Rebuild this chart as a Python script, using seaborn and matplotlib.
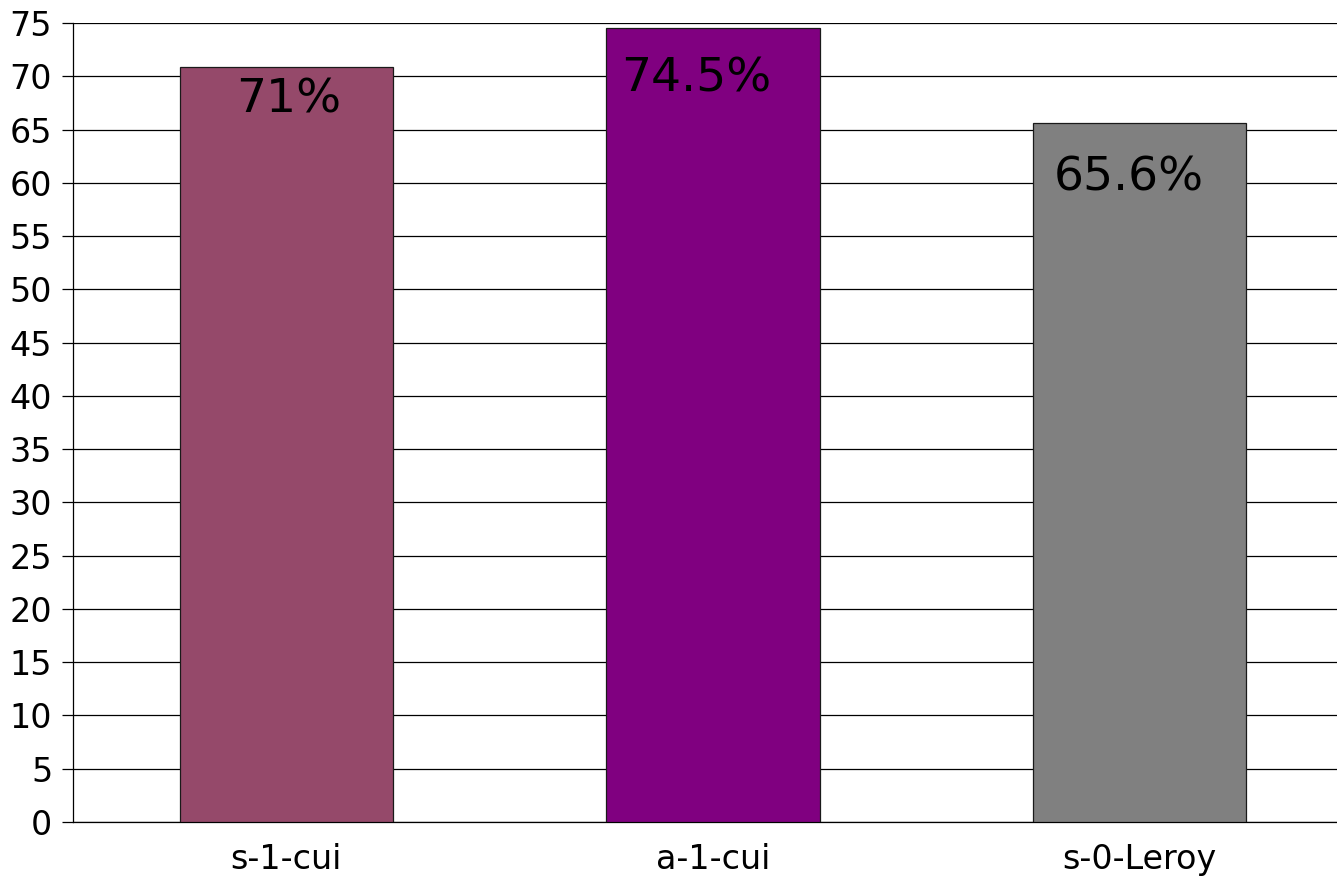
import matplotlib
matplotlib.use("Agg")
import matplotlib.pyplot as plt
import seaborn as sns
import pandas as pd
from matplotlib.ticker import FixedLocator

# chart data
categories = ["s-1-cui", "a-1-cui", "s-0-Leroy"]
values = [70.9, 74.5, 65.6]
value_labels = ["71%", "74.5%", "65.6%"]
bar_colors = ["#95496A", "#800080", "#808080"]
y_ticks = list(range(0, 80, 5))

df = pd.DataFrame({"category": categories, "value": values})

sns.set_style("white")
plt.rcParams["font.family"] = ["DejaVu Sans"]

fig = plt.figure(figsize=(13.37, 8.8), dpi=100)
# axes runs slightly past the right edge, as in the reference
ax = fig.add_axes([73 / 1337, 58 / 880, 1280 / 1337, 799 / 880])

sns.barplot(data=df, x="category", y="value", hue="category",
            palette=bar_colors, legend=False, width=0.5, saturation=1,
            edgecolor="#1a1a1a", linewidth=0.9, ax=ax, zorder=3)

ax.set_xlim(-0.5, 2.5)
ax.set_ylim(0, 75)
ax.set_yticks(y_ticks)
ax.yaxis.grid(True, color="black", linewidth=0.9)
ax.set_axisbelow(True)

# category labels centred, tick marks at the category boundaries
ax.xaxis.set_minor_locator(FixedLocator([-0.5, 0.5, 1.5, 2.5]))
ax.tick_params(axis="x", which="major", length=0, pad=15, labelsize=24, labelcolor="black")
ax.tick_params(axis="x", which="minor", length=8, width=0.9, color="black", direction="out")
ax.tick_params(axis="y", length=8, width=0.9, color="black", pad=7, labelsize=24,
               labelcolor="black", left=True)
ax.set_xlabel("")
ax.set_ylabel("")

for side in ["top", "right"]:
    ax.spines[side].set_visible(False)
for side in ["left", "bottom"]:
    ax.spines[side].set_color("black")
    ax.spines[side].set_linewidth(0.9)

# value labels inside the bars
label_dx = [0.005, -0.04, -0.025]
label_dy = [-8, -20, -23]
for i, (v, txt) in enumerate(zip(values, value_labels)):
    ax.annotate(txt, xy=(i + label_dx[i], v), xytext=(0, label_dy[i]),
                textcoords="offset points", ha="center", va="top",
                fontsize=34, color="black", zorder=4)

fig.savefig("out.png", dpi=100)
